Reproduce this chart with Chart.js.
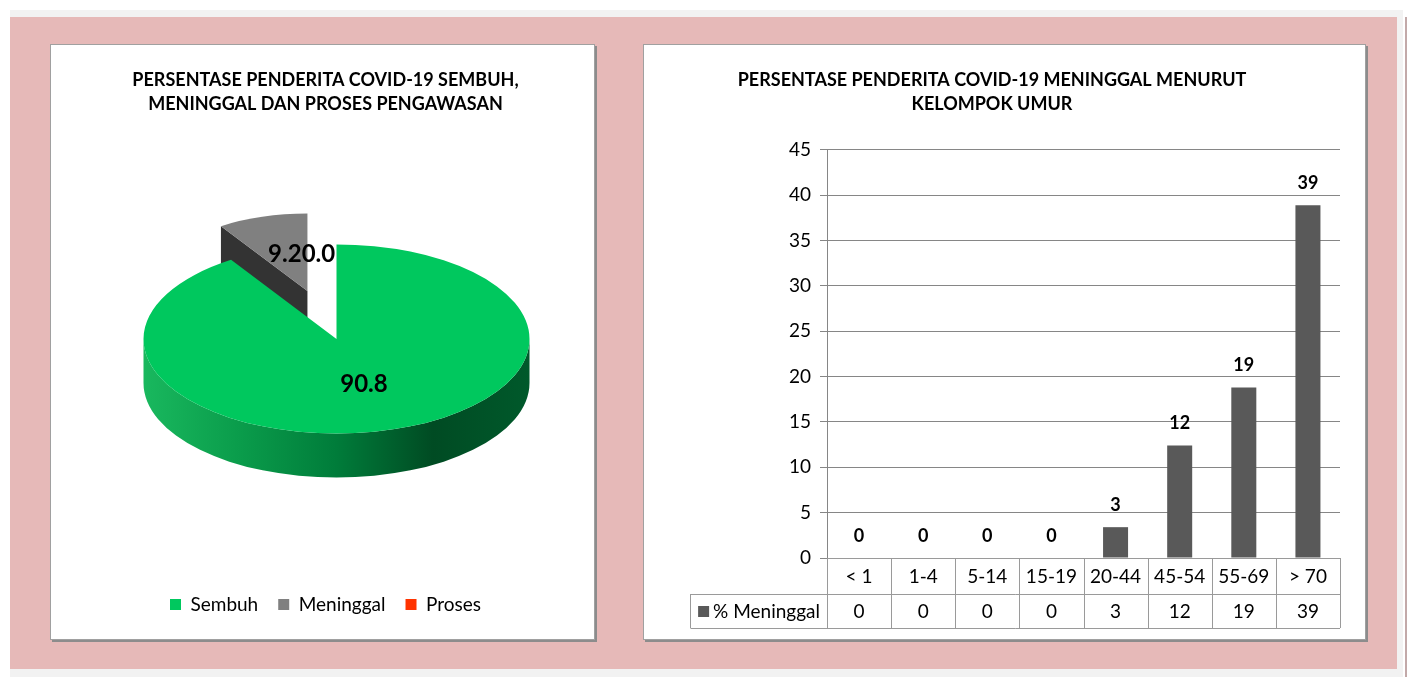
<!DOCTYPE html>
<html>
<head>
<meta charset="utf-8">
<script src="https://cdn.jsdelivr.net/npm/chart.js@4.4.1/dist/chart.umd.min.js"></script>
<style>
  body { margin: 0; background: #fff; }
  .band { position: absolute; left: 10px; top: 10px; width: 1393px; height: 667px; background: #f2f2f2; }
  .pink { position: absolute; left: 10px; top: 17px; width: 1387px; height: 652px; background: #e6b9b8; }
  .edge { position: absolute; left: 1405px; top: 17px; width: 2px; height: 660px; background: #c2a9a9; }
  .panel { position: absolute; top: 44px; height: 596px; background: #fff; border: 1px solid #a0a0a0;
           box-shadow: 2px 2px 0 #8c8c8c; box-sizing: border-box; }
  .panel canvas { display: block; }
</style>
</head>
<body>
<div class="band"></div>
<div class="pink"></div>
<div class="edge"></div>
<div class="panel" style="left:50px;width:545px"><canvas id="pieChart" width="543" height="594"></canvas></div>
<div class="panel" style="left:643px;width:723px"><canvas id="barChart" width="721" height="594"></canvas></div>
<script>
// data pie
const statusLabels = ['Sembuh', 'Meninggal', 'Proses'];
const statusPct = [90.8, 9.2, 0.0];

// data batang
const ageGroups = ['< 1', '1-4', '5-14', '15-19', '20-44', '45-54', '55-69', '> 70'];
const deathPct = [0, 0, 0, 0, 3.4, 12.4, 18.8, 38.9];
const seriesName = '% Meninggal';

const FONT = 'Lato, "Open Sans", sans-serif';

// pie 3D sederhana: tutup miring + dinding samping
const pie3d = {
  id: 'pie3d',
  beforeDatasetsDraw(chart, args, opts) {
    const ctx = chart.ctx;
    const arcs = chart.getDatasetMeta(0).data;
    const values = chart.data.datasets[0].data;
    const k = opts.tilt, depth = opts.depth;
    const cx = arcs[0].x + opts.shiftX;
    const cy = arcs[0].y - depth / 2;

    const faces = arcs.map((arc, i) => {
      const s = arc.startAngle, e = arc.endAngle, mid = (s + e) / 2;
      const ex = opts.explode[i] || 0;
      return {
        s, e, mid,
        R: arc.outerRadius * (opts.shrink[i] || 1),
        ox: cx + Math.cos(mid) * ex,
        oy: cy + Math.sin(mid) * ex * k,
        color: arc.options.backgroundColor
      };
    });

    // irisan yang ditarik keluar digambar dulu (ada di belakang)
    const order = faces.map((f, i) => i).sort((a, b) => (opts.explode[b] || 0) - (opts.explode[a] || 0));

    const radialWall = (f, t, color) => {
      const rx = f.ox + Math.cos(t) * f.R, ry = f.oy + Math.sin(t) * f.R * k;
      ctx.beginPath();
      ctx.moveTo(f.ox, f.oy);
      ctx.lineTo(rx, ry);
      ctx.lineTo(rx, ry + depth);
      ctx.lineTo(f.ox, f.oy + depth);
      ctx.closePath();
      ctx.fillStyle = color;
      ctx.fill();
    };

    order.forEach(i => {
      const f = faces[i];
      if (f.e - f.s <= 0) return;
      if (Math.cos(f.s) < -0.01) radialWall(f, f.s, opts.wallColors[i]);
      if (Math.cos(f.e) > 0.01) radialWall(f, f.e, opts.wallColors[i]);
      // dinding luar, hanya setengah depan
      [[0, Math.PI], [2 * Math.PI, 3 * Math.PI], [-2 * Math.PI, -Math.PI]].forEach(([a0, a1]) => {
        const a = Math.max(f.s, a0), b = Math.min(f.e, a1);
        if (b <= a) return;
        const g = ctx.createLinearGradient(f.ox - f.R, 0, f.ox + f.R, 0);
        const stops = opts.sideStops[i];
        stops.forEach((c, j) => g.addColorStop(j / (stops.length - 1), c));
        ctx.beginPath();
        ctx.ellipse(f.ox, f.oy, f.R, f.R * k, 0, a, b);
        ctx.lineTo(f.ox + Math.cos(b) * f.R, f.oy + Math.sin(b) * f.R * k + depth);
        ctx.ellipse(f.ox, f.oy + depth, f.R, f.R * k, 0, b, a, true);
        ctx.closePath();
        ctx.fillStyle = g;
        ctx.fill();
      });
      // tutup atas
      ctx.save();
      ctx.translate(f.ox, f.oy);
      ctx.scale(1, k);
      ctx.beginPath();
      ctx.moveTo(0, 0);
      ctx.arc(0, 0, f.R, f.s, f.e);
      ctx.closePath();
      ctx.fillStyle = f.color;
      ctx.fill();
      ctx.restore();
    });

    // label nilai
    ctx.save();
    ctx.font = 'bold 24px ' + FONT;
    ctx.fillStyle = '#000';
    ctx.textAlign = 'left';
    ctx.textBaseline = 'middle';
    let prev = null;
    faces.forEach((f, i) => {
      const txt = values[i].toFixed(1);
      const w = ctx.measureText(txt).width;
      let x, y;
      if (f.e - f.s > 0) {
        x = f.ox + Math.cos(f.mid) * f.R / 2 - w / 2;
        y = f.oy + Math.sin(f.mid) * f.R / 2 * k;
      } else if (prev) {
        x = prev.x + prev.w;
        y = prev.y;
      } else return;
      ctx.fillText(txt, x, y);
      prev = { x, y, w };
    });
    ctx.restore();
    return false;
  }
};

new Chart(document.getElementById('pieChart'), {
  type: 'pie',
  data: {
    labels: statusLabels,
    datasets: [{
      data: statusPct,
      backgroundColor: ['#00c85e', '#808080', '#ff3300'],
      borderWidth: 0
    }]
  },
  options: {
    responsive: false,
    animation: false,
    radius: 193,
    layout: { padding: { left: 6, right: 0, top: 0, bottom: 15 } },
    plugins: {
      title: {
        display: true,
        text: ['PERSENTASE PENDERITA COVID-19 SEMBUH,', 'MENINGGAL DAN PROSES PENGAWASAN'],
        color: '#000',
        font: { family: FONT, size: 18, weight: 'bold', lineHeight: 1.333 },
        padding: { top: 23, bottom: 31 }
      },
      legend: {
        position: 'bottom',
        labels: {
          color: '#000',
          boxWidth: 11,
          boxHeight: 11,
          padding: 20,
          font: { family: FONT, size: 19 }
        }
      },
      tooltip: { enabled: false },
      pie3d: {
        tilt: 0.49,
        depth: 44,
        shiftX: 11,
        explode: [0, 102, 0],
        shrink: [1, 0.82, 1],
        wallColors: ['#007a38', '#333333', '#a52200'],
        sideStops: [
          ['#19b85e', '#0a9c4b', '#007c3a', '#004b23', '#00592b'],
          ['#555555', '#444444', '#333333', '#2a2a2a', '#303030'],
          ['#e03a10', '#c02a00', '#a02000', '#801800', '#901c00']
        ]
      }
    }
  },
  plugins: [pie3d]
});

// label di atas batang
const barLabels = {
  id: 'barLabels',
  afterDatasetsDraw(chart) {
    const ctx = chart.ctx;
    const meta = chart.getDatasetMeta(0);
    ctx.save();
    ctx.font = 'bold 18px ' + FONT;
    ctx.fillStyle = '#000';
    ctx.textAlign = 'center';
    ctx.textBaseline = 'middle';
    meta.data.forEach((bar, i) => {
      ctx.fillText(String(Math.round(deathPct[i])), bar.x, bar.y - 22);
    });
    ctx.restore();
  }
};

// tabel data di bawah sumbu x
const dataTable = {
  id: 'dataTable',
  afterDraw(chart, args, opts) {
    const ctx = chart.ctx;
    const xs = chart.scales.x;
    const area = chart.chartArea;
    const half = (xs.getPixelForValue(1) - xs.getPixelForValue(0)) / 2;
    const top = area.bottom;
    const mid = top + opts.row1;
    const bot = mid + opts.row2;

    ctx.save();
    ctx.font = '19px ' + FONT;
    const textW = ctx.measureText(seriesName).width;
    const headLeft = area.left - (textW + 30);

    ctx.strokeStyle = opts.lineColor;
    ctx.lineWidth = 1;
    ctx.beginPath();
    ctx.moveTo(area.left, Math.round(top) + 0.5); ctx.lineTo(area.right, Math.round(top) + 0.5);
    ctx.moveTo(Math.round(headLeft) + 0.5, Math.round(mid) + 0.5); ctx.lineTo(area.right, Math.round(mid) + 0.5);
    ctx.moveTo(Math.round(headLeft) + 0.5, Math.round(bot) + 0.5); ctx.lineTo(area.right, Math.round(bot) + 0.5);
    ageGroups.forEach((g, i) => {
      const xb = Math.round(xs.getPixelForValue(i) + half) + 0.5;
      ctx.moveTo(xb, top); ctx.lineTo(xb, bot);
    });
    ctx.moveTo(Math.round(area.left) + 0.5, top); ctx.lineTo(Math.round(area.left) + 0.5, bot);
    ctx.moveTo(Math.round(headLeft) + 0.5, mid); ctx.lineTo(Math.round(headLeft) + 0.5, bot);
    ctx.stroke();

    ctx.fillStyle = '#000';
    ctx.textAlign = 'center';
    ctx.textBaseline = 'middle';
    ageGroups.forEach((g, i) => {
      const xc = xs.getPixelForValue(i);
      ctx.fillText(g, xc, (top + mid) / 2 + 1);
      ctx.fillText(String(Math.round(deathPct[i])), xc, (mid + bot) / 2 + 1);
    });
    // kunci legenda
    ctx.fillStyle = chart.data.datasets[0].backgroundColor;
    ctx.fillRect(headLeft + 8, (mid + bot) / 2 - 5, 11, 11);
    ctx.fillStyle = '#000';
    ctx.textAlign = 'left';
    ctx.fillText(seriesName, headLeft + 23, (mid + bot) / 2 + 1);
    ctx.restore();
  }
};

new Chart(document.getElementById('barChart'), {
  type: 'bar',
  data: {
    labels: ageGroups,
    datasets: [{
      label: seriesName,
      data: deathPct,
      backgroundColor: '#595959',
      categoryPercentage: 1,
      barPercentage: 0.39
    }]
  },
  options: {
    responsive: false,
    animation: false,
    layout: { padding: { left: 0, right: 25, top: 0, bottom: 81 } },
    scales: {
      x: { display: false },
      y: {
        min: 0,
        max: 45,
        ticks: { stepSize: 5, color: '#000', padding: 9, font: { family: FONT, size: 19 } },
        grid: { color: '#868686', tickLength: 7 },
        border: { color: '#868686' },
        afterFit(scale) { scale.width = 183; }
      }
    },
    plugins: {
      title: {
        display: true,
        text: ['PERSENTASE PENDERITA COVID-19 MENINGGAL MENURUT', 'KELOMPOK UMUR'],
        color: '#000',
        font: { family: FONT, size: 18, weight: 'bold', lineHeight: 1.333 },
        padding: { top: 23, bottom: 34 }
      },
      legend: { display: false },
      tooltip: { enabled: false },
      dataTable: { row1: 36, row2: 34, lineColor: '#9a9a9a' }
    }
  },
  plugins: [barLabels, dataTable]
});
</script>
</body>
</html>
